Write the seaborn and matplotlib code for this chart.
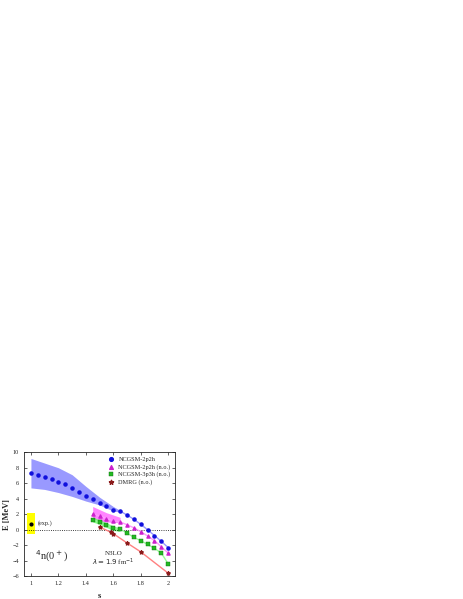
import matplotlib
matplotlib.use("Agg")
import matplotlib.pyplot as plt
import seaborn as sns
import numpy as np

sns.set_style("ticks")
plt.rcParams['font.family'] = ['Liberation Serif', 'DejaVu Serif']

s_blue = [1.0,1.05,1.1,1.15,1.2,1.25,1.3,1.35,1.4,1.45,1.5,1.55,1.6,1.65,1.7,1.75,1.8,1.85,1.9,1.95,2.0]
e_blue = [7.3,7.05,6.85,6.55,6.2,5.85,5.35,4.9,4.4,3.95,3.5,3.05,2.55,2.4,1.9,1.35,0.7,0.0,-0.75,-1.5,-2.3]
s_band = [1.0,1.1,1.2,1.3,1.4,1.5,1.6,1.65]
blue_hi = [9.2,8.6,8.0,7.1,5.6,4.2,3.0,2.5]
blue_lo = [5.4,5.2,4.8,4.3,3.7,3.2,2.4,2.3]
s_mag = [1.45,1.5,1.55,1.6,1.65,1.7,1.75,1.8,1.85,1.9,1.95,2.0]
e_mag = [2.0,1.8,1.45,1.15,1.0,0.65,0.25,-0.25,-0.8,-1.4,-2.2,-3.0]
s_mband = [1.45,1.5,1.55,1.6,1.65]
mag_hi = [3.0,2.6,2.2,1.9,1.6]
mag_lo = [1.2,1.1,1.0,0.95,0.9]
e_grn = [1.3,1.0,0.6,0.2,0.05,-0.4,-1.0,-1.4,-1.9,-2.4,-3.0,-4.4]
grn_hi = [1.6,1.3,0.9,0.5,0.2]
grn_lo = [1.0,0.7,0.3,-0.1,-0.2]
s_dmrg = [1.5,1.58,1.6,1.7,1.8,2.0]
e_dmrg = [0.35,-0.3,-0.5,-1.7,-2.85,-5.6]

fig = plt.figure(figsize=(4.63,5.99), dpi=100)
ax = fig.add_axes([0.052,0.038,0.326,0.207])
ax.fill_between(s_band, blue_lo, blue_hi, color='#8080ff', alpha=0.8, lw=0)
ax.fill_between(s_mband, mag_lo, mag_hi, color='#ff66ff', alpha=0.8, lw=0)
ax.fill_between(s_mband, grn_lo, grn_hi, color='#66ff66', alpha=0.8, lw=0)
ax.fill_between([0.97,1.03],[-0.5,-0.5],[2.1,2.1], color='#ffff00', lw=0)
ax.axhline(0, color='k', ls=':', lw=0.6)
sns.lineplot(x=s_blue, y=e_blue, color='#9999ff', lw=1, ax=ax)
sns.lineplot(x=s_mag, y=e_mag, color='#ff99ff', lw=1, ax=ax)
sns.lineplot(x=s_mag, y=e_grn, color='#99ff99', lw=1, ax=ax)
sns.lineplot(x=s_dmrg, y=e_dmrg, color='#ff8080', lw=1, ax=ax)
ax.scatter(s_blue, e_blue, s=5, color='#1010dd', label='NCGSM-2p2h', zorder=3)
ax.scatter(s_mag, e_mag, s=5, marker='^', color='#cc22cc', label='NCGSM-2p2h (n.o.)', zorder=3)
ax.scatter(s_mag, e_grn, s=5, marker='s', color='#22bb22', edgecolor='#116611', lw=0.3, label='NCGSM-3p3h (n.o.)', zorder=3)
ax.scatter(s_dmrg, e_dmrg, s=7, marker='*', color='#8b1a1a', label='DMRG (n.o.)', zorder=3)
ax.scatter([1.0],[0.8], s=4, color='k', zorder=4)
ax.text(1.05, 0.8, '(exp.)', fontsize=4.5, va='center')
ax.text(1.03, -3.9, r'$^4$n(0$^+$)', fontsize=7.5)
ax.text(1.6, -3.3, 'N3LO', fontsize=5, ha='center')
ax.text(1.6, -4.6, r'$\lambda = 1.9$ fm$^{-1}$', fontsize=5, ha='center')
ax.set_xlim(0.95, 2.05)
ax.set_ylim(-6, 10)
ax.set_xticks([1,1.2,1.4,1.6,1.8,2])
ax.set_xticklabels(['1','1.2','1.4','1.6','1.8','2'])
ax.set_yticks(range(-6,11,2))
ax.tick_params(labelsize=4.5, direction='in', length=2, width=0.5, top=True, right=True)
for sp in ax.spines.values():
    sp.set_linewidth(0.6)
ax.set_xlabel('s', fontsize=6, fontweight='bold', labelpad=4)
ax.set_ylabel('E [MeV]', fontsize=6, fontweight='bold', labelpad=1)
ax.legend(fontsize=4.5, frameon=False, loc='upper right', handletextpad=0.2, borderaxespad=0.3, labelspacing=0.3, markerscale=1.2)
fig.savefig('out.png', dpi=100)
